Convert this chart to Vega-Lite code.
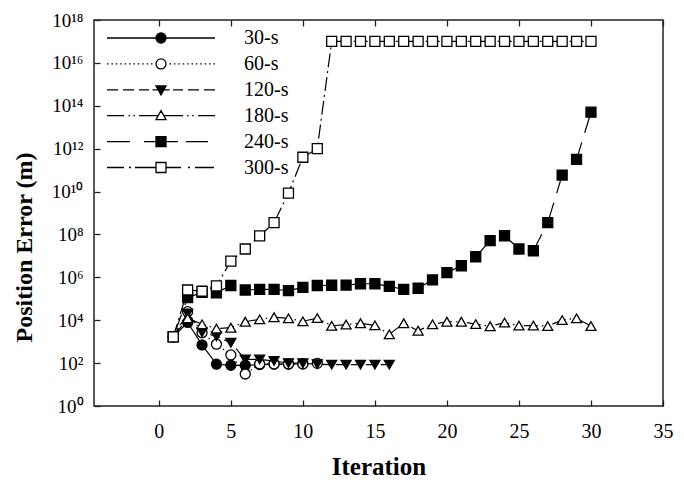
{
  "$schema": "https://vega.github.io/schema/vega-lite/v6.json",
  "width": 569,
  "height": 386,
  "autosize": {"type": "none"},
  "padding": {"left": 94, "top": 20, "right": 21, "bottom": 76},
  "background": "white",
  "config": {
    "view": {"stroke": "#222", "strokeWidth": 1.5},
    "font": "Liberation Serif",
    "axis": {"grid": false, "domain": false, "tickColor": "#222", "tickWidth": 1.3, "labelFont": "Liberation Serif", "labelColor": "black", "titleFont": "Liberation Serif", "titleColor": "black", "labelFontSize": 20, "titleFontSize": 25, "titleFontWeight": "bold", "labelFlush": false},
    "legend": {"labelFont": "Liberation Serif", "labelColor": "black"}
  },
  "data": {"values": [
    {"series": "30-s", "iter": 1, "err": 1660},
    {"series": "30-s", "iter": 2, "err": 7900},
    {"series": "30-s", "iter": 3, "err": 708},
    {"series": "30-s", "iter": 4, "err": 89},
    {"series": "30-s", "iter": 5, "err": 79},
    {"series": "30-s", "iter": 6, "err": 79},
    {"series": "30-s", "iter": 7, "err": 85},
    {"series": "30-s", "iter": 8, "err": 90},
    {"series": "30-s", "iter": 9, "err": 90},
    {"series": "30-s", "iter": 10, "err": 95},
    {"series": "60-s", "iter": 1, "err": 1660},
    {"series": "60-s", "iter": 2, "err": 25100},
    {"series": "60-s", "iter": 3, "err": 2630},
    {"series": "60-s", "iter": 4, "err": 760},
    {"series": "60-s", "iter": 5, "err": 240},
    {"series": "60-s", "iter": 6, "err": 31},
    {"series": "60-s", "iter": 7, "err": 91},
    {"series": "60-s", "iter": 8, "err": 91},
    {"series": "60-s", "iter": 9, "err": 91},
    {"series": "60-s", "iter": 10, "err": 91},
    {"series": "60-s", "iter": 11, "err": 98},
    {"series": "120-s", "iter": 1, "err": 1660},
    {"series": "120-s", "iter": 2, "err": 20900},
    {"series": "120-s", "iter": 3, "err": 2750},
    {"series": "120-s", "iter": 4, "err": 1780},
    {"series": "120-s", "iter": 5, "err": 890},
    {"series": "120-s", "iter": 6, "err": 148},
    {"series": "120-s", "iter": 7, "err": 148},
    {"series": "120-s", "iter": 8, "err": 126},
    {"series": "120-s", "iter": 9, "err": 100},
    {"series": "120-s", "iter": 10, "err": 98},
    {"series": "120-s", "iter": 11, "err": 89},
    {"series": "120-s", "iter": 12, "err": 85},
    {"series": "120-s", "iter": 13, "err": 85},
    {"series": "120-s", "iter": 14, "err": 85},
    {"series": "120-s", "iter": 15, "err": 85},
    {"series": "120-s", "iter": 16, "err": 85},
    {"series": "180-s", "iter": 1, "err": 1660},
    {"series": "180-s", "iter": 2, "err": 12300},
    {"series": "180-s", "iter": 3, "err": 6460},
    {"series": "180-s", "iter": 4, "err": 4070},
    {"series": "180-s", "iter": 5, "err": 4470},
    {"series": "180-s", "iter": 6, "err": 8510},
    {"series": "180-s", "iter": 7, "err": 10960},
    {"series": "180-s", "iter": 8, "err": 13800},
    {"series": "180-s", "iter": 9, "err": 12300},
    {"series": "180-s", "iter": 10, "err": 8900},
    {"series": "180-s", "iter": 11, "err": 12600},
    {"series": "180-s", "iter": 12, "err": 5500},
    {"series": "180-s", "iter": 13, "err": 6300},
    {"series": "180-s", "iter": 14, "err": 7240},
    {"series": "180-s", "iter": 15, "err": 5750},
    {"series": "180-s", "iter": 16, "err": 2190},
    {"series": "180-s", "iter": 17, "err": 7240},
    {"series": "180-s", "iter": 18, "err": 3240},
    {"series": "180-s", "iter": 19, "err": 6460},
    {"series": "180-s", "iter": 20, "err": 8510},
    {"series": "180-s", "iter": 21, "err": 8510},
    {"series": "180-s", "iter": 22, "err": 6600},
    {"series": "180-s", "iter": 23, "err": 5250},
    {"series": "180-s", "iter": 24, "err": 7760},
    {"series": "180-s", "iter": 25, "err": 5620},
    {"series": "180-s", "iter": 26, "err": 5620},
    {"series": "180-s", "iter": 27, "err": 5370},
    {"series": "180-s", "iter": 28, "err": 10200},
    {"series": "180-s", "iter": 29, "err": 12300},
    {"series": "180-s", "iter": 30, "err": 5370},
    {"series": "240-s", "iter": 1, "err": 1660},
    {"series": "240-s", "iter": 2, "err": 112000},
    {"series": "240-s", "iter": 3, "err": 200000},
    {"series": "240-s", "iter": 4, "err": 190000},
    {"series": "240-s", "iter": 5, "err": 417000},
    {"series": "240-s", "iter": 6, "err": 257000},
    {"series": "240-s", "iter": 7, "err": 275000},
    {"series": "240-s", "iter": 8, "err": 275000},
    {"series": "240-s", "iter": 9, "err": 240000},
    {"series": "240-s", "iter": 10, "err": 339000},
    {"series": "240-s", "iter": 11, "err": 417000},
    {"series": "240-s", "iter": 12, "err": 427000},
    {"series": "240-s", "iter": 13, "err": 437000},
    {"series": "240-s", "iter": 14, "err": 501000},
    {"series": "240-s", "iter": 15, "err": 501000},
    {"series": "240-s", "iter": 16, "err": 380000},
    {"series": "240-s", "iter": 17, "err": 275000},
    {"series": "240-s", "iter": 18, "err": 309000},
    {"series": "240-s", "iter": 19, "err": 759000},
    {"series": "240-s", "iter": 20, "err": 1660000},
    {"series": "240-s", "iter": 21, "err": 3470000},
    {"series": "240-s", "iter": 22, "err": 9120000},
    {"series": "240-s", "iter": 23, "err": 51300000},
    {"series": "240-s", "iter": 24, "err": 87100000},
    {"series": "240-s", "iter": 25, "err": 20900000},
    {"series": "240-s", "iter": 26, "err": 17400000},
    {"series": "240-s", "iter": 27, "err": 355000000},
    {"series": "240-s", "iter": 28, "err": 58900000000},
    {"series": "240-s", "iter": 29, "err": 316000000000},
    {"series": "240-s", "iter": 30, "err": 50100000000000},
    {"series": "300-s", "iter": 1, "err": 1660},
    {"series": "300-s", "iter": 2, "err": 257000},
    {"series": "300-s", "iter": 3, "err": 224000},
    {"series": "300-s", "iter": 4, "err": 398000},
    {"series": "300-s", "iter": 5, "err": 5750000},
    {"series": "300-s", "iter": 6, "err": 20900000},
    {"series": "300-s", "iter": 7, "err": 85100000},
    {"series": "300-s", "iter": 8, "err": 355000000},
    {"series": "300-s", "iter": 9, "err": 8510000000},
    {"series": "300-s", "iter": 10, "err": 398000000000},
    {"series": "300-s", "iter": 11, "err": 1000000000000},
    {"series": "300-s", "iter": 12, "err": 1e17},
    {"series": "300-s", "iter": 13, "err": 1e17},
    {"series": "300-s", "iter": 14, "err": 1e17},
    {"series": "300-s", "iter": 15, "err": 1e17},
    {"series": "300-s", "iter": 16, "err": 1e17},
    {"series": "300-s", "iter": 17, "err": 1e17},
    {"series": "300-s", "iter": 18, "err": 1e17},
    {"series": "300-s", "iter": 19, "err": 1e17},
    {"series": "300-s", "iter": 20, "err": 1e17},
    {"series": "300-s", "iter": 21, "err": 1e17},
    {"series": "300-s", "iter": 22, "err": 1e17},
    {"series": "300-s", "iter": 23, "err": 1e17},
    {"series": "300-s", "iter": 24, "err": 1e17},
    {"series": "300-s", "iter": 25, "err": 1e17},
    {"series": "300-s", "iter": 26, "err": 1e17},
    {"series": "300-s", "iter": 27, "err": 1e17},
    {"series": "300-s", "iter": 28, "err": 1e17},
    {"series": "300-s", "iter": 29, "err": 1e17},
    {"series": "300-s", "iter": 30, "err": 1e17}
  ]},
  "layer": [
    {
      "mark": {"type": "line", "stroke": "black", "strokeWidth": 1.2},
      "encoding": {
        "x": {"field": "iter", "type": "quantitative", "scale": {"domain": [-4.5, 35], "nice": false, "zero": false},
          "axis": {"values": [0, 5, 10, 15, 20, 25, 30, 35], "tickSize": -6, "labelPadding": 21, "title": "Iteration", "titlePadding": 13}},
        "y": {"field": "err", "type": "quantitative", "scale": {"type": "log", "domain": [1, 1e18], "nice": false},
          "axis": {"values": [1, 1e2, 1e4, 1e6, 1e8, 1e10, 1e12, 1e14, 1e16, 1e18], "tickSize": -6, "labelPadding": 17, "labelFontSize": 19, "title": "Position Error (m)", "titleFontSize": 24, "titleX": -70, "titleY": 227, "titleBaseline": "middle", "titleAlign": "center", "titleAngle": -90,
            "labelExpr": "'10' + (round(log(datum.value)/LN10) >= 10 ? ['⁰','¹','²','³','⁴','⁵','⁶','⁷','⁸','⁹'][floor(round(log(datum.value)/LN10)/10)] : '') + ['⁰','¹','²','³','⁴','⁵','⁶','⁷','⁸','⁹'][round(log(datum.value)/LN10) % 10]"}},
        "strokeDash": {"field": "series", "type": "nominal",
          "scale": {"domain": ["30-s", "60-s", "120-s", "180-s", "240-s", "300-s"], "range": [[1, 0], [1.5, 3], [10, 5], [14, 4, 1.5, 4, 1.5, 4], [24, 10], [14, 4, 2, 4]]},
          "legend": null}
      }
    },
    {
      "mark": {"type": "point", "size": 100, "stroke": "black", "strokeWidth": 1.3, "opacity": 1},
      "encoding": {
        "x": {"field": "iter", "type": "quantitative", "axis": {"orient": "top", "values": [0, 5, 10, 15, 20, 25, 30, 35], "tickSize": -6, "labels": false, "title": null}},
        "y": {"field": "err", "type": "quantitative"},
        "shape": {"condition": [
            {"test": "datum.series === '30-s' || datum.series === '60-s'", "value": "circle"},
            {"test": "datum.series === '120-s'", "value": "triangle-down"},
            {"test": "datum.series === '180-s'", "value": "triangle-up"}
          ], "value": "square"},
        "fill": {"condition": {"test": "indexof(['30-s','120-s','240-s'], datum.series) >= 0", "value": "black"}, "value": "white"}
      }
    },
    {
      "transform": [{"filter": "false"}],
      "mark": {"type": "point", "size": 100, "stroke": "black", "strokeWidth": 1.3, "opacity": 1, "filled": false},
      "encoding": {
        "shape": {"field": "series", "type": "nominal",
          "scale": {"domain": ["30-s", "60-s", "120-s", "180-s", "240-s", "300-s"],
            "range": [
              "M-10.8,0H-1M1,0H10.8M1,0A1,1,0,1,1,-1,0A1,1,0,1,1,1,0ZM-0.44,-0.9H0.44M-0.71,-0.7H0.71M-0.87,-0.5H0.87M-0.95,-0.3H0.95M-1,-0.1H1M-1,0.1H1M-0.95,0.3H0.95M-0.87,0.5H0.87M-0.71,0.7H0.71M-0.44,0.9H0.44",
              "M-10.8,0h0.3M-9.92,0h0.3M-9.04,0h0.3M-8.16,0h0.3M-7.28,0h0.3M-6.4,0h0.3M-5.52,0h0.3M-4.64,0h0.3M-3.76,0h0.3M-2.88,0h0.3M-2,0h0.3M1.7,0h0.3M2.58,0h0.3M3.46,0h0.3M4.34,0h0.3M5.22,0h0.3M6.1,0h0.3M6.98,0h0.3M7.86,0h0.3M8.74,0h0.3M9.62,0h0.3M10.5,0h0.3M1,0A1,1,0,1,1,-1,0A1,1,0,1,1,1,0Z",
              "M-10.8,0H-8.6M-7.6,0H-5.4M-4.4,0H-2.4M-1.7,0H1.7M2.4,0H4.4M5.4,0H7.6M8.6,0H10.8M-1,-0.8L1,-0.8L0,1ZM-0.94,-0.7H0.94M-0.83,-0.5H0.83M-0.72,-0.3H0.72M-0.61,-0.1H0.61M-0.5,0.1H0.5M-0.39,0.3H0.39M-0.28,0.5H0.28M-0.17,0.7H0.17",
              "M-10.8,0H-7.4M-6.5,0h0.3M-5.5,0h0.3M-4.4,0H-0.56M0.56,0H4.4M5.2,0h0.3M6.2,0h0.3M7.4,0H10.8M-1,0.8L1,0.8L0,-1Z",
              "M-10.8,0H-6.2M-3.4,0H-1M1,0H3.4M5,0H9.4M-1,-1H1V1H-1ZM-1,-0.8H1M-1,-0.6H1M-1,-0.4H1M-1,-0.2H1M-1,0H1M-1,0.2H1M-1,0.4H1M-1,0.6H1M-1,0.8H1",
              "M-10.8,0H-7.4M-6.4,0h0.4M-5.2,0H-1M1,0H4M5.4,0h0.4M6.8,0H10.6M-1,-1H1V1H-1Z"
            ]},
          "legend": {"title": null, "orient": "none", "legendX": 57, "legendY": 8, "padding": 0, "rowPadding": 5.9, "labelOffset": 73, "labelFont": "Liberation Serif", "labelFontSize": 20, "labelColor": "black", "symbolSize": 100, "symbolStrokeColor": "black", "symbolStrokeWidth": 1.3, "symbolOpacity": 1, "symbolFillColor": "transparent"}}
      }
    }
  ],
  "resolve": {"scale": {"shape": "independent"}, "axis": {"x": "independent"}}
}
